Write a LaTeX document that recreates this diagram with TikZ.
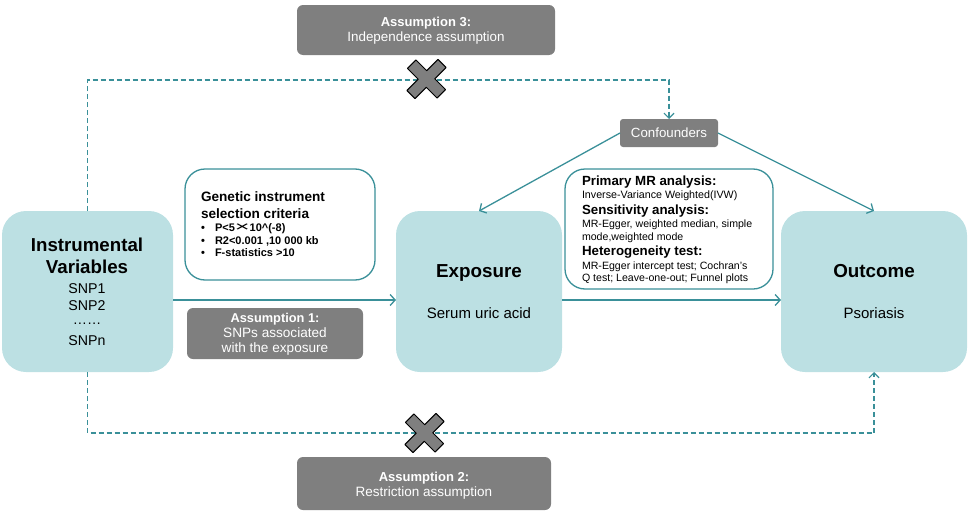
\documentclass[tikz,border=0pt]{standalone}
\usepackage{fontspec}
\setmainfont{Liberation Sans}
\usetikzlibrary{arrows.meta,calc}
\definecolor{tealfill}{HTML}{BCE0E3}
\definecolor{tealline}{HTML}{3A9099}
\definecolor{boxgray}{HTML}{7F7F7F}
\newcommand{\fsz}[1]{\fontsize{#1}{#1}\selectfont}
\begin{document}
\begin{tikzpicture}[x=1pt,y=-1pt,
  mainbox/.style={fill=tealfill, rounded corners=24pt, minimum width=#1, minimum height=161pt, inner sep=0pt, outer sep=0pt},
  wbox/.style={draw=tealline, line width=1.3pt, fill=white, rounded corners=20pt, inner sep=0pt, outer sep=0pt},
  gbox/.style={fill=boxgray, rounded corners=6pt, inner sep=0pt, outer sep=0pt, text=white},
  txt/.style={anchor=base, inner sep=0pt, outer sep=0pt},
  ltxt/.style={anchor=base west, inner sep=0pt, outer sep=0pt},
  arr/.style={draw=tealline, line width=1.3pt, -{Straight Barb[length=5pt,width=11pt]}},
  dsh/.style={draw=tealline, line width=1.2pt, dash pattern=on 5pt off 3pt, -{Straight Barb[length=5pt,width=10pt]}},
  xmark/.style={fill=boxgray, draw=black, line width=1pt, line join=round}
]
\useasboundingbox (0,0) rectangle (969,514);

% main boxes
\node[mainbox=171pt] (iv) at (87.5,291.5) {};
\node[mainbox=166pt] (exp) at (479,291.5) {};
\node[mainbox=186pt] (out) at (874,291.5) {};
\node[wbox, minimum width=190pt, minimum height=111pt] (gen) at (280,224.5) {};
\node[wbox, minimum width=208pt, minimum height=120pt] (mr) at (669,229) {};
\node[gbox, minimum width=176pt, minimum height=51pt] (a1) at (275,333.5) {};
\node[gbox, minimum width=258pt, minimum height=50pt] (a3) at (426,30) {};
\node[gbox, minimum width=254pt, minimum height=53pt] (a2) at (424,483.5) {};
\node[gbox, minimum width=98pt, minimum height=28pt, rounded corners=3pt, font=\fsz{13.3}] (conf) at (669,133) {Confounders};

% connectors
\draw[arr] ($(iv.east)+(0,8.5)$) -- ($(exp.west)+(0,8.5)$);
\draw[arr] ($(exp.east)+(0,8.5)$) -- ($(out.west)+(0,8.5)$);
\draw[arr] (conf.west) -- (exp.north);
\draw[arr] (conf.east) -- (out.north);
\draw[dsh] (iv.north) -- ++(0,-131) -| (conf.north);
\draw[dsh] (iv.south) -- ++(0,61) -| (out.south);

% X marks
\coordinate (x3) at (426.5,79);
\coordinate (x2) at (424.5,433);
\draw[xmark, shift={(x3)}, rotate=45, yscale=0.95] (6,6) -- (22,6) -- (22,-6) -- (6,-6) -- (6,-22) -- (-6,-22) -- (-6,-6) -- (-22,-6) -- (-22,6) -- (-6,6) -- (-6,22) -- (6,22) -- cycle;
\draw[xmark, shift={(x2)}, rotate=45, yscale=0.95] (6,6) -- (22,6) -- (22,-6) -- (6,-6) -- (6,-22) -- (-6,-22) -- (-6,-6) -- (-22,-6) -- (-22,6) -- (-6,6) -- (-6,22) -- (6,22) -- cycle;

% Instrumental variables text
\node[txt, font=\bfseries\fsz{18.7}] (ivt1) at (87,251) {Instrumental};
\node[txt, font=\bfseries\fsz{18.7}] (ivt2) at (87,273) {Variables};
\node[txt, font=\fsz{14.2}] (ivt3) at (87,293) {SNP1};
\node[txt, font=\fsz{14.2}] (ivt4) at (87,310) {SNP2};
\node[txt, font=\fsz{14.2}] (ivt5) at (87,324) {……};
\node[txt, font=\fsz{14.2}] (ivt6) at (87,345.5) {SNPn};

% Exposure
\node[txt, font=\bfseries\fsz{18.8}] (ext1) at (479,277) {Exposure};
\node[txt, font=\fsz{15}] (ext2) at (479,318) {Serum uric acid};

% Outcome
\node[txt, font=\bfseries\fsz{18.8}] (oct1) at (874,277) {Outcome};
\node[txt, font=\fsz{15}] (oct2) at (874,318) {Psoriasis};

% Genetic instrument box
\node[ltxt, font=\bfseries\fsz{13.6}] (gt1) at (201,201.5) {Genetic instrument};
\node[ltxt, font=\bfseries\fsz{13.6}] (gt2) at (201,218) {selection criteria};
\node[ltxt, font=\bfseries\fsz{11}] (gb1) at (201,231.5) {•};
\node[ltxt, font=\bfseries\fsz{11}] (gb2) at (201,244) {•};
\node[ltxt, font=\bfseries\fsz{11}] (gb3) at (201,256.5) {•};
\node[ltxt, font=\bfseries\fsz{11}] (gl1) at (215,231.5) {P<5\scalebox{2.3}[1.25]{\mdseries×}10\^{}(-8)};
\node[ltxt, font=\bfseries\fsz{11}] (gl2) at (215,244) {R2<0.001 ,10 000 kb};
\node[ltxt, font=\bfseries\fsz{11}] (gl3) at (215,256.5) {F-statistics >10};

% MR analysis box
\node[ltxt, font=\bfseries\fsz{13.3}] (m1) at (582,185) {Primary MR analysis:};
\node[ltxt, font=\fsz{10.7}] (m2) at (582,198) {Inverse-Variance Weighted(IVW)};
\node[ltxt, font=\bfseries\fsz{13.3}] (m3) at (582,214) {Sensitivity analysis:};
\node[ltxt, font=\fsz{10.6}] (m4) at (582,227.3) {MR-Egger, weighted median, simple};
\node[ltxt, font=\fsz{10.6}] (m5) at (582,240) {mode,weighted mode};
\node[ltxt, font=\bfseries\fsz{13.3}] (m6) at (582,255.7) {Heterogeneity test:};
\node[ltxt, font=\fsz{10.6}] (m7) at (582,269.3) {MR-Egger intercept test; Cochran's};
\node[ltxt, font=\fsz{10.6}] (m8) at (582,281) {Q test; Leave-one-out; Funnel plots};

% Assumption 1
\node[txt, font=\bfseries\fsz{12.8}, text=white] (a1t1) at (275,322.3) {Assumption 1:};
\node[txt, font=\fsz{13.6}, text=white] (a1t2) at (275,337.7) {SNPs associated};
\node[txt, font=\fsz{13.6}, text=white] (a1t3) at (275,352) {with the exposure};

% Assumption 3
\node[txt, font=\bfseries\fsz{13}, text=white] (a3t1) at (426,26) {Assumption 3:};
\node[txt, font=\fsz{13.4}, text=white] (a3t2) at (426,41.5) {Independence assumption};

% Assumption 2
\node[txt, font=\bfseries\fsz{13}, text=white] (a2t1) at (424,481.7) {Assumption 2:};
\node[txt, font=\fsz{13.5}, text=white] (a2t2) at (424,496.5) {Restriction assumption};
\end{tikzpicture}
\end{document}
